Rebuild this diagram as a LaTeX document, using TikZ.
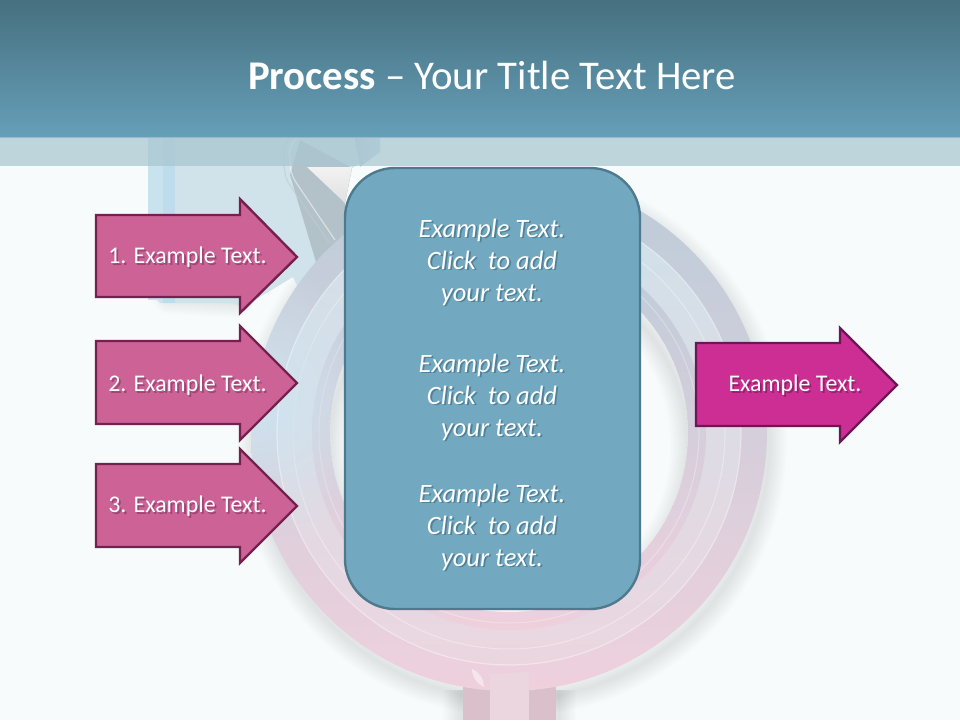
\documentclass[tikz,border=0pt]{standalone}
\usepackage{fontspec}
\setmainfont{Carlito}
\usetikzlibrary{calc,fadings}
\definecolor{bgc}{HTML}{F7FBFC}
\definecolor{bandtop}{HTML}{46707F}
\definecolor{bandbot}{HTML}{669FB9}
\definecolor{stripc}{HTML}{A8C5CF}
\definecolor{pinkf}{HTML}{CC6296}
\definecolor{pinkd}{HTML}{74214F}
\definecolor{pinks}{HTML}{9A4777}
\definecolor{magf}{HTML}{CC2E93}
\definecolor{magd}{HTML}{6B1657}
\definecolor{mags}{HTML}{95206C}
\definecolor{boxf}{HTML}{73A9C0}
\definecolor{boxd}{HTML}{4F7A8E}
\definecolor{boxs}{HTML}{4F8199}
\definecolor{ringA}{HTML}{BCCCD9}
\definecolor{ringB}{HTML}{CFCFD9}
\definecolor{ringC}{HTML}{EFD0DD}
\definecolor{ringAl}{HTML}{CFE1E9}
\definecolor{ringBl}{HTML}{DDDDE4}
\definecolor{ringCl}{HTML}{EBD6E0}
\definecolor{headc}{HTML}{D0E2EA}
\definecolor{glowc}{HTML}{CDE5F0}
\definecolor{bandl}{HTML}{C8E2EE}
\definecolor{bandm}{HTML}{BEDCEB}
\tikzfading[name=glow,inner color=transparent!0,outer color=transparent!100]
\newcommand{\shtxt}[2]{\leavevmode\rlap{\raisebox{-1.8pt}{\hspace{1.8pt}\textcolor{#1}{#2}}}#2}
\tikzset{
  arrowshape/.style={line width=2.4pt,line join=miter,miter limit=10},
  pinkarrow/.style={arrowshape,draw=pinkd,fill=pinkf},
  magarrow/.style={arrowshape,draw=magd,fill=magf},
  arrowtext/.style={text=white,font=\fontsize{23.9}{28}\selectfont,inner sep=0pt},
  boxtext/.style={text=white,font=\fontsize{26.5}{32}\selectfont\itshape,align=center,inner sep=0pt},
  ringshade/.style={shading=axis,shading angle=25,top color=ringA,middle color=ringB,bottom color=ringC},
  ringlight/.style={shading=axis,shading angle=25,top color=ringAl,middle color=ringBl,bottom color=ringCl},
}
\begin{document}
\begin{tikzpicture}[x=1pt,y=-1pt]
\useasboundingbox (0,0) rectangle (960,720);
\fill[bgc] (0,0) rectangle (960,720);
\coordinate (c) at (509,433);
% soft shadow outside the symbol
\foreach \w in {3,6,...,36}{
  \draw[black,opacity=0.009,line width=\w pt] ($(c)+(3,9)$) circle (257);
  \draw[black,opacity=0.009,line width=\w pt,line cap=round] (170,296) -- (235,300);
  \draw[black,opacity=0.007,line width=\w pt,line cap=butt] (461,690) -- (461,720);
  \draw[black,opacity=0.007,line width=\w pt,line cap=butt] (558,690) -- (558,720);
}
% head of the symbol
\fill[headc] (148,120) -- (380,120) -- (380,152) -- (352,168) -- (345,203) -- (345,300) -- (300,292) -- (293,277) -- (243,307) -- (232,303) -- (160,303) -- (148,290) -- cycle;
\fill[bandl] (148,120) rectangle (163,300);
\fill[bandm] (163,120) rectangle (175,303);
\fill[black!40!headc,opacity=.35] (300,140) -- (352,168) -- (345,203) -- (345,300) -- (318,292) -- (316,262) -- (290,175) -- cycle;
\shade[left color=ringA,right color=bandm] (352,125) -- (380,125) -- (380,152) -- (360,167) -- cycle;
\shade[top color=white!90!gray,bottom color=black!12] (307,167) -- (352,167) -- (345,203) -- cycle;
\draw[white,opacity=.5,line width=1.2pt,rounded corners=8pt] (305,130) -- (289,146) -- (291,175) -- (335,240);
\draw[ringA,opacity=.6,line width=1.2pt,rounded corners=8pt] (297,130) -- (283,146) -- (285,178) -- (330,244);
% stem
\fill[ringC!80!gray] (463,660) rectangle (556,720);
\fill[ringCl] (490,660) rectangle (529,720);
% ring
\shade[ringshade] (c) circle (258);
\shade[ringlight] (c) circle (232);
\draw[white,opacity=.35,line width=1pt] (c) circle (216);
\shade[ringshade] (c) circle (197);
\draw[white,opacity=.3,line width=1pt] (c) circle (190);
\begin{scope}
  \clip (c) circle (258);
  \fill[glowc,path fading=glow] (250,400) circle (140);
  \draw[white,opacity=.4,line width=1.2pt] (c) circle (232);
\end{scope}
\fill[ringCl] (490,674) -- (529,672) -- (529,700) -- (490,700) -- cycle;
\fill[white,opacity=.45] (472,669) .. controls (480,672) and (484,680) .. (484,687) .. controls (477,684) and (472,677) .. (472,669) -- cycle;
% hole with soft inner shadow
\fill[bgc] (c) circle (179);
\begin{scope}
  \clip (c) circle (179);
  \foreach \w in {3,6,...,36}{
    \draw[black,opacity=0.009,line width=\w pt] ($(c)+(0,12)$) circle (179);
  }
\end{scope}
% title band
\shade[top color=bandtop,bottom color=bandbot] (0,0) rectangle (960,137);
\fill[stripc,opacity=.7] (0,137) rectangle (960,166);
\node[text=white,inner sep=0pt,font=\fontsize{40.8}{48}\selectfont] (title) at (492,75) {\textbf{Process} – Your Title Text Here};
% input arrows
\draw[pinkarrow] (96,215) -- (240,215) -- (240,199) -- (297,257) -- (240,313) -- (240,297) -- (96,297) -- cycle;
\node[arrowtext] (a1) at (187.5,258) {\shtxt{pinks}{1. Example Text.}};
\draw[pinkarrow] (96,341) -- (240,341) -- (240,326) -- (297,383) -- (240,440) -- (240,424) -- (96,424) -- cycle;
\node[arrowtext] (a2) at (187.5,386) {\shtxt{pinks}{2. Example Text.}};
\draw[pinkarrow] (96,464) -- (240,464) -- (240,449) -- (297,506) -- (240,563) -- (240,547) -- (96,547) -- cycle;
\node[arrowtext] (a3) at (187.5,507) {\shtxt{pinks}{3. Example Text.}};
% central box
\draw[line width=2.4pt,draw=boxd,fill=boxf,rounded corners=50pt] (345,168) rectangle (640,609);
\node[boxtext] (t1) at (492,263) {\shtxt{boxs}{Example Text.}\\\shtxt{boxs}{Click\ \ to add}\\\shtxt{boxs}{your text.}};
\node[boxtext] (t2) at (492,398) {\shtxt{boxs}{Example Text.}\\\shtxt{boxs}{Click\ \ to add}\\\shtxt{boxs}{your text.}};
\node[boxtext] (t3) at (492,528) {\shtxt{boxs}{Example Text.}\\\shtxt{boxs}{Click\ \ to add}\\\shtxt{boxs}{your text.}};
% output arrow
\draw[magarrow] (696,343) -- (840,343) -- (840,328) -- (897,385) -- (840,442) -- (840,426) -- (696,426) -- cycle;
\node[arrowtext] (out) at (795,386) {\shtxt{mags}{Example Text.}};
\end{tikzpicture}
\end{document}
